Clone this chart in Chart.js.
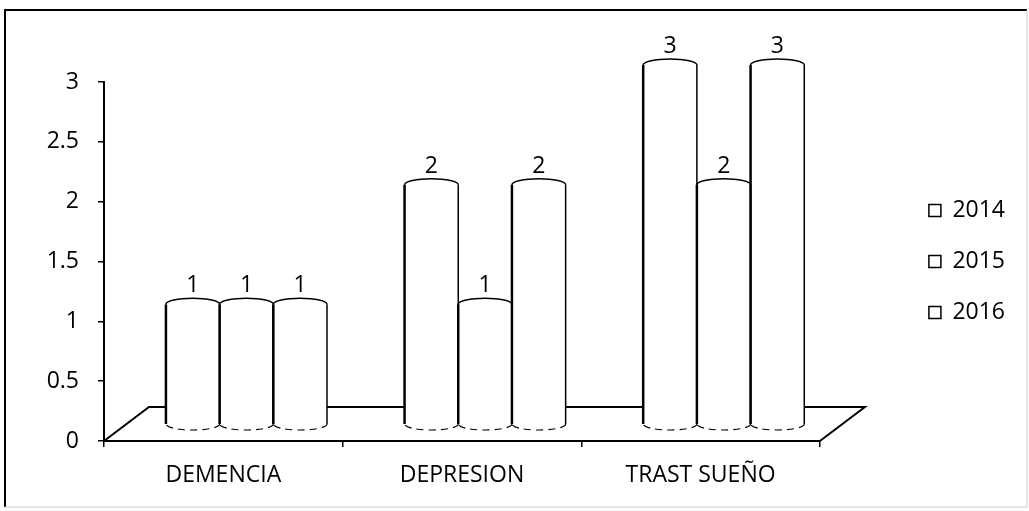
<!DOCTYPE html>
<html>
<head>
<meta charset="utf-8">
<script src="https://cdn.jsdelivr.net/npm/chart.js@4.4.1/dist/chart.umd.min.js"></script>
<style>
  html, body { margin: 0; padding: 0; background: #fff; }
</style>
</head>
<body>
<canvas id="chart" width="1029" height="511"></canvas>
<script>
const categories = ['DEMENCIA', 'DEPRESION', 'TRAST SUEÑO'];
const years = ['2014', '2015', '2016'];
const values2014 = [1, 2, 3];
const values2015 = [1, 1, 2];
const values2016 = [1, 2, 3];
const yTicks = [0, 0.5, 1, 1.5, 2, 2.5, 3];

// fake 3d: floor depth in px, and the bars sit halfway back on it
const DEPTH_X = 45, DEPTH_Y = 34;
const X_SHIFT = 0.097;   // DEPTH_X / 2 in category units
const Y_SHIFT = 0.142;   // DEPTH_Y / 2 in value units
const RY = 6;            // ellipse half height of the cylinder caps

const font = { family: "'Open Sans', sans-serif", size: 23 };

const frame = {
  id: 'frame',
  beforeDraw(chart) {
    const ctx = chart.ctx;
    ctx.save();
    ctx.strokeStyle = '#000';
    ctx.lineWidth = 2;
    ctx.beginPath();
    ctx.moveTo(5, 507); ctx.lineTo(5, 10); ctx.lineTo(1027, 10);
    ctx.stroke();
    ctx.strokeStyle = '#ccc';
    ctx.lineWidth = 1;
    ctx.beginPath();
    ctx.moveTo(1027, 10); ctx.lineTo(1027, 507); ctx.lineTo(5, 507);
    ctx.stroke();

    // floor
    const x = chart.scales.x, y = chart.scales.y;
    const y0 = y.getPixelForValue(0);
    ctx.strokeStyle = '#000';
    ctx.lineWidth = 2;
    ctx.beginPath();
    ctx.moveTo(x.left, y0);
    ctx.lineTo(x.left + DEPTH_X, y0 - DEPTH_Y);
    ctx.lineTo(x.right + DEPTH_X, y0 - DEPTH_Y);
    ctx.lineTo(x.right, y0);
    ctx.stroke();
    ctx.restore();
  }
};

const cylinders = {
  id: 'cylinders',
  afterDatasetsDraw(chart) {
    const ctx = chart.ctx;
    const bars = [];
    chart.data.datasets.forEach((ds, i) => {
      chart.getDatasetMeta(i).data.forEach((el, j) => {
        const p = el.getProps(['x', 'y', 'base', 'width'], true);
        bars.push({ ...p, v: ds.data[j].y });
      });
    });
    ctx.save();
    // caps filled first so they do not cover the outlines
    ctx.fillStyle = '#fff';
    bars.forEach(b => {
      ctx.beginPath();
      ctx.ellipse(b.x, b.y, b.width / 2, RY, 0, 0, Math.PI * 2);
      ctx.fill();
    });
    ctx.strokeStyle = '#000';
    bars.forEach(b => {
      const l = b.x - b.width / 2, r = b.x + b.width / 2;
      ctx.setLineDash([]);
      ctx.lineWidth = 2.5;
      ctx.beginPath();
      ctx.moveTo(l, b.y); ctx.lineTo(l, b.base);
      ctx.stroke();
      ctx.lineWidth = 1.5;
      ctx.beginPath();
      ctx.moveTo(r, b.y); ctx.lineTo(r, b.base);
      ctx.stroke();
      ctx.beginPath();
      ctx.ellipse(b.x, b.y, b.width / 2, RY, 0, Math.PI, Math.PI * 2);
      ctx.stroke();
      ctx.setLineDash([7, 5]);
      ctx.lineWidth = 1.2;
      ctx.beginPath();
      ctx.ellipse(b.x, b.base, b.width / 2, RY, 0, 0, Math.PI);
      ctx.stroke();
    });
    ctx.setLineDash([]);
    ctx.fillStyle = '#000';
    ctx.font = font.size + 'px ' + font.family;
    ctx.textAlign = 'center';
    ctx.textBaseline = 'alphabetic';
    bars.forEach(b => ctx.fillText(String(b.v), b.x, b.y - 12));
    ctx.restore();
  }
};

new Chart(document.getElementById('chart'), {
  type: 'bar',
  data: {
    labels: categories,
    datasets: [values2014, values2015, values2016].map((vals, i) => ({
      label: years[i],
      data: vals.map((v, j) => ({ x: j, y: v })),
      xAxisID: 'x2',
      yAxisID: 'y2',
      backgroundColor: '#fff',
      borderColor: '#000',
      borderWidth: 0,
      categoryPercentage: 0.675,
      barPercentage: 1,
      clip: false
    }))
  },
  options: {
    responsive: false,
    animation: false,
    devicePixelRatio: 1,
    layout: { padding: { top: 82, left: 0, right: 14, bottom: 0 } },
    plugins: {
      tooltip: { enabled: false },
      legend: {
        position: 'right',
        fullSize: false,
        labels: {
          font: font,
          color: '#000',
          boxWidth: 12,
          boxHeight: 12,
          padding: 28,
          generateLabels: chart => Chart.defaults.plugins.legend.labels.generateLabels(chart)
            .map(l => Object.assign(l, { fillStyle: '#fff', strokeStyle: '#000', lineWidth: 1.5 }))
        }
      }
    },
    scales: {
      x: {
        type: 'category',
        position: 'bottom',
        offset: true,
        grid: { display: true, drawOnChartArea: false, offset: true, tickLength: 6, color: '#000', lineWidth: 1.5 },
        border: { display: true, color: '#000', width: 2 },
        ticks: { font: font, color: '#000', padding: 15, maxRotation: 0 },
        afterFit: s => { s.height = 70; }
      },
      y: {
        type: 'linear',
        position: 'left',
        min: 0,
        max: 3,
        afterBuildTicks: s => { s.ticks = yTicks.map(v => ({ value: v })); },
        grid: { drawOnChartArea: false, tickLength: 6, color: '#000', lineWidth: 1.5 },
        border: { display: true, color: '#000', width: 2 },
        ticks: { font: font, color: '#000', padding: 19, callback: v => String(v) },
        afterFit: s => { s.width = 104; }
      },
      x2: {
        type: 'linear',
        display: false,
        offset: false,
        min: -0.5 - X_SHIFT,
        max: 2.5 - X_SHIFT,
        // one tick per category so the bar width comes from the category spacing
        afterBuildTicks: s => { s.ticks = categories.map((c, i) => ({ value: i })); }
      },
      y2: {
        type: 'linear',
        position: 'right',
        min: -Y_SHIFT,
        max: 3 - Y_SHIFT,
        grid: { display: false },
        border: { display: false },
        ticks: { display: false },
        afterFit: s => { s.width = 81; }
      }
    }
  },
  plugins: [frame, cylinders]
});
</script>
</body>
</html>
